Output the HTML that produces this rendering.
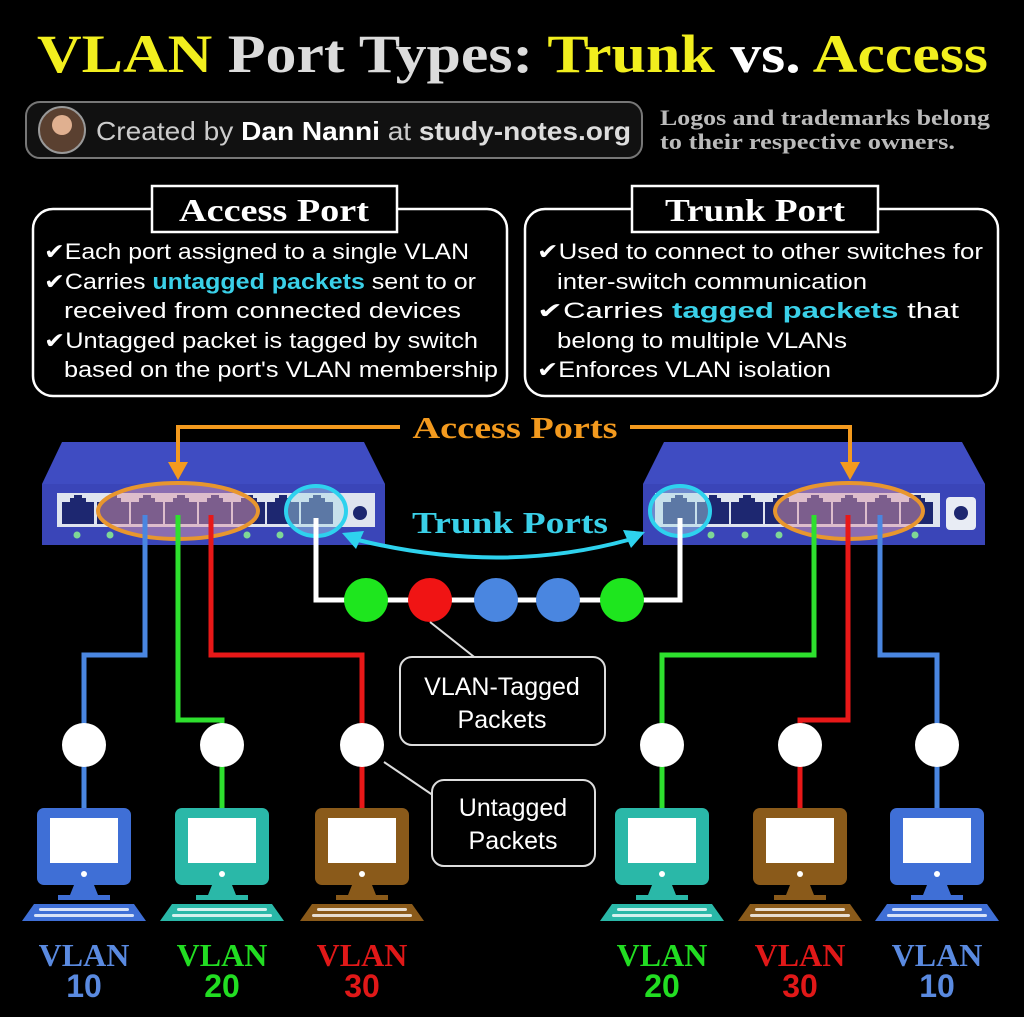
<!DOCTYPE html>
<html><head><meta charset="utf-8"><style>
html,body{margin:0;padding:0;background:#000;}
svg{display:block}
.s{font-family:"Liberation Sans",sans-serif}
.r{font-family:"Liberation Serif",serif;font-weight:bold}
</style></head><body>
<svg width="1024" height="1017" viewBox="0 0 1024 1017" xmlns="http://www.w3.org/2000/svg">
<defs>
<g id="port"><path d="M2 8 h8 v-4 h4 v-3 h8 v3 h4 v4 h8 v22 h-32 z" fill="#1d2770"/></g>
<g id="pc">
<rect x="-47" y="0" width="94" height="77" rx="7"/>
<rect x="-34" y="10" width="68" height="45" fill="#fff"/>
<circle cx="0" cy="66" r="3" fill="#fff"/>
<path d="M-10 77 h20 l4 10 h12 v5 h-52 v-5 h12 z"/>
<path d="M-50 96 h100 l12 17 h-124 z"/>
<g fill="#fff"><rect x="-45" y="100" width="90" height="3" rx="1.5" opacity=".8"/><rect x="-50" y="106" width="100" height="3" rx="1.5" opacity=".8"/></g>
</g>
</defs>
<!-- title -->
<text x="37" y="72" class="r" font-size="54" textLength="951" lengthAdjust="spacingAndGlyphs"><tspan fill="#f2ef1e">VLAN</tspan><tspan fill="#dcdcdc"> Port Types: </tspan><tspan fill="#f2ef1e">Trunk</tspan><tspan fill="#fff"> vs. </tspan><tspan fill="#f2ef1e">Access</tspan></text>
<!-- creator pill -->
<rect x="26" y="102" width="616" height="56" rx="14" fill="#111" stroke="#777" stroke-width="2"/>
<circle cx="62" cy="130" r="23" fill="#5a4030" stroke="#999" stroke-width="2"/>
<circle cx="62" cy="125" r="10" fill="#e0b090"/>
<text x="96" y="140" class="s" font-size="26" fill="#ccc" textLength="535" lengthAdjust="spacingAndGlyphs">Created by <tspan fill="#fff" font-weight="bold">Dan Nanni</tspan> at <tspan font-weight="bold" fill="#ddd">study-notes.org</tspan></text>
<text x="660" y="125" class="r" font-size="22" fill="#bbb" textLength="330" lengthAdjust="spacingAndGlyphs">Logos and trademarks belong</text>
<text x="660" y="149" class="r" font-size="22" fill="#bbb" textLength="295" lengthAdjust="spacingAndGlyphs">to their respective owners.</text>
<!-- boxes -->
<rect x="33" y="209" width="474" height="187" rx="20" fill="none" stroke="#fff" stroke-width="2.5"/>
<rect x="152" y="186" width="245" height="46" fill="#000" stroke="#fff" stroke-width="2.5"/>
<text x="274" y="221" class="r" font-size="32" fill="#fff" text-anchor="middle" textLength="190" lengthAdjust="spacingAndGlyphs">Access Port</text>
<rect x="525" y="209" width="473" height="187" rx="20" fill="none" stroke="#fff" stroke-width="2.5"/>
<rect x="632" y="186" width="246" height="46" fill="#000" stroke="#fff" stroke-width="2.5"/>
<text x="755" y="221" class="r" font-size="32" fill="#fff" text-anchor="middle" textLength="180" lengthAdjust="spacingAndGlyphs">Trunk Port</text>
<g class="s" font-size="22" fill="#fff">
<text x="44" y="259" textLength="425" lengthAdjust="spacingAndGlyphs">✔Each port assigned to a single VLAN</text>
<text x="44" y="289" textLength="432" lengthAdjust="spacingAndGlyphs">✔Carries <tspan fill="#3ad0e8" font-weight="bold">untagged packets</tspan> sent to or</text>
<text x="64" y="318" textLength="397" lengthAdjust="spacingAndGlyphs">received from connected devices</text>
<text x="44" y="348" textLength="434" lengthAdjust="spacingAndGlyphs">✔Untagged packet is tagged by switch</text>
<text x="64" y="377" textLength="434" lengthAdjust="spacingAndGlyphs">based on the port's VLAN membership</text>
<text x="537" y="259" textLength="446" lengthAdjust="spacingAndGlyphs">✔Used to connect to other switches for</text>
<text x="557" y="289" textLength="310" lengthAdjust="spacingAndGlyphs">inter-switch communication</text>
<text x="537" y="318" textLength="422" lengthAdjust="spacingAndGlyphs">✔Carries <tspan fill="#3ad0e8" font-weight="bold">tagged packets</tspan> that</text>
<text x="557" y="348" textLength="290" lengthAdjust="spacingAndGlyphs">belong to multiple VLANs</text>
<text x="537" y="377" textLength="294" lengthAdjust="spacingAndGlyphs">✔Enforces VLAN isolation</text>
</g>
<!-- left switch -->
<path d="M62 442 H364 L385 484 H42 Z" fill="#3f4cc2"/>
<rect x="42" y="484" width="343" height="61" fill="#3a45b8"/>
<rect x="57" y="493" width="318" height="34" fill="#dfe4ef"/>
<g>
<use href="#port" x="60" y="494"/><use href="#port" x="95" y="494"/><use href="#port" x="129" y="494"/><use href="#port" x="163" y="494"/><use href="#port" x="197" y="494"/><use href="#port" x="231" y="494"/><use href="#port" x="265" y="494"/><use href="#port" x="299" y="494"/>
</g>
<circle cx="360" cy="513" r="7" fill="#1d2770"/>
<g fill="#7ed896"><circle cx="77" cy="535" r="3.5"/><circle cx="110" cy="535" r="3.5"/><circle cx="247" cy="535" r="3.5"/><circle cx="280" cy="535" r="3.5"/></g>
<ellipse cx="178" cy="511" rx="80" ry="28" fill="rgba(220,150,170,0.5)" stroke="#e8962e" stroke-width="4"/>
<ellipse cx="316" cy="511" rx="30" ry="25" fill="rgba(170,220,230,0.45)" stroke="#2ed2ee" stroke-width="4"/>
<!-- right switch -->
<path d="M664 442 H962 L985 484 H643 Z" fill="#3f4cc2"/>
<rect x="643" y="484" width="342" height="61" fill="#3a45b8"/>
<rect x="655" y="493" width="285" height="34" fill="#dfe4ef"/>
<g>
<use href="#port" x="661" y="494"/><use href="#port" x="695" y="494"/><use href="#port" x="729" y="494"/><use href="#port" x="763" y="494"/><use href="#port" x="797" y="494"/><use href="#port" x="831" y="494"/><use href="#port" x="865" y="494"/><use href="#port" x="899" y="494"/>
</g>
<rect x="946" y="497" width="30" height="33" rx="4" fill="#e8ecf4"/>
<circle cx="961" cy="513" r="7" fill="#1d2770"/>
<g fill="#7ed896"><circle cx="711" cy="535" r="3.5"/><circle cx="745" cy="535" r="3.5"/><circle cx="779" cy="535" r="3.5"/><circle cx="915" cy="535" r="3.5"/></g>
<ellipse cx="849" cy="511" rx="74" ry="28" fill="rgba(220,150,170,0.5)" stroke="#e8962e" stroke-width="4"/>
<ellipse cx="680" cy="511" rx="30" ry="25" fill="rgba(170,220,230,0.45)" stroke="#2ed2ee" stroke-width="4"/>
<!-- access ports label + arrows -->
<text x="515" y="438" class="r" font-size="31" fill="#f39a1e" text-anchor="middle" textLength="205" lengthAdjust="spacingAndGlyphs">Access Ports</text>
<path d="M400 427 H178 V465 M630 427 H850 V465" fill="none" stroke="#f39a1e" stroke-width="4"/>
<path d="M168 462 h20 l-10 18 z M840 462 h20 l-10 18 z" fill="#f39a1e"/>
<!-- trunk ports label & arrow -->
<text x="510" y="533" class="r" font-size="31" fill="#3ad0e8" text-anchor="middle" textLength="196" lengthAdjust="spacingAndGlyphs">Trunk Ports</text>
<path d="M358 540 Q500 575 628 540" fill="none" stroke="#2ed2ee" stroke-width="4"/>
<path d="M342 533 l22 -2 l-8 18 z M645 532 l-22 -2 l8 18 z" fill="#2ed2ee"/>
<!-- trunk cable -->
<path d="M316 518 V600 H680 V518" fill="none" stroke="#fff" stroke-width="5"/>
<circle cx="366" cy="600" r="22" fill="#1ee61e"/>
<circle cx="430" cy="600" r="22" fill="#f01414"/>
<circle cx="496" cy="600" r="22" fill="#4a86e0"/>
<circle cx="558" cy="600" r="22" fill="#4a86e0"/>
<circle cx="622" cy="600" r="22" fill="#1ee61e"/>
<!-- cables -->
<g fill="none" stroke-width="5">
<path d="M145 515 V655 H84 V810" stroke="#4a86e0"/>
<path d="M178 515 V720 H222 V810" stroke="#2ee02e"/>
<path d="M211 515 V655 H362 V810" stroke="#e81818"/>
<path d="M814 515 V655 H662 V810" stroke="#2ee02e"/>
<path d="M848 515 V720 H800 V810" stroke="#e81818"/>
<path d="M880 515 V655 H937 V810" stroke="#4a86e0"/>
</g>
<g fill="#fff"><circle cx="84" cy="745" r="22"/><circle cx="222" cy="745" r="22"/><circle cx="362" cy="745" r="22"/><circle cx="662" cy="745" r="22"/><circle cx="800" cy="745" r="22"/><circle cx="937" cy="745" r="22"/></g>
<!-- callouts -->
<path d="M430 622 L478 660 M384 762 L440 800" stroke="#ddd" stroke-width="2" fill="none"/>
<rect x="400" y="657" width="205" height="88" rx="12" fill="#000" stroke="#ddd" stroke-width="2"/>
<text x="502" y="695" class="s" font-size="25" fill="#fff" text-anchor="middle">VLAN-Tagged</text>
<text x="502" y="728" class="s" font-size="25" fill="#fff" text-anchor="middle">Packets</text>
<rect x="432" y="780" width="163" height="86" rx="12" fill="#000" stroke="#ddd" stroke-width="2"/>
<text x="513" y="816" class="s" font-size="25" fill="#fff" text-anchor="middle">Untagged</text>
<text x="513" y="849" class="s" font-size="25" fill="#fff" text-anchor="middle">Packets</text>
<!-- computers -->
<use href="#pc" x="84" y="808" fill="#3f6fd6"/>
<use href="#pc" x="222" y="808" fill="#2ab8a8"/>
<use href="#pc" x="362" y="808" fill="#8a5a1a"/>
<use href="#pc" x="662" y="808" fill="#2ab8a8"/>
<use href="#pc" x="800" y="808" fill="#8a5a1a"/>
<use href="#pc" x="937" y="808" fill="#3f6fd6"/>
<!-- VLAN labels -->
<g class="r" font-size="32" text-anchor="middle">
<text x="84" y="966" fill="#5a8ae0">VLAN</text><text x="84" y="997" fill="#5a8ae0" class="s" font-weight="bold">10</text>
<text x="222" y="966" fill="#22dd22">VLAN</text><text x="222" y="997" fill="#22dd22" class="s" font-weight="bold">20</text>
<text x="362" y="966" fill="#e01818">VLAN</text><text x="362" y="997" fill="#e01818" class="s" font-weight="bold">30</text>
<text x="662" y="966" fill="#22dd22">VLAN</text><text x="662" y="997" fill="#22dd22" class="s" font-weight="bold">20</text>
<text x="800" y="966" fill="#e01818">VLAN</text><text x="800" y="997" fill="#e01818" class="s" font-weight="bold">30</text>
<text x="937" y="966" fill="#5a8ae0">VLAN</text><text x="937" y="997" fill="#5a8ae0" class="s" font-weight="bold">10</text>
</g>
</svg>
</body></html>
